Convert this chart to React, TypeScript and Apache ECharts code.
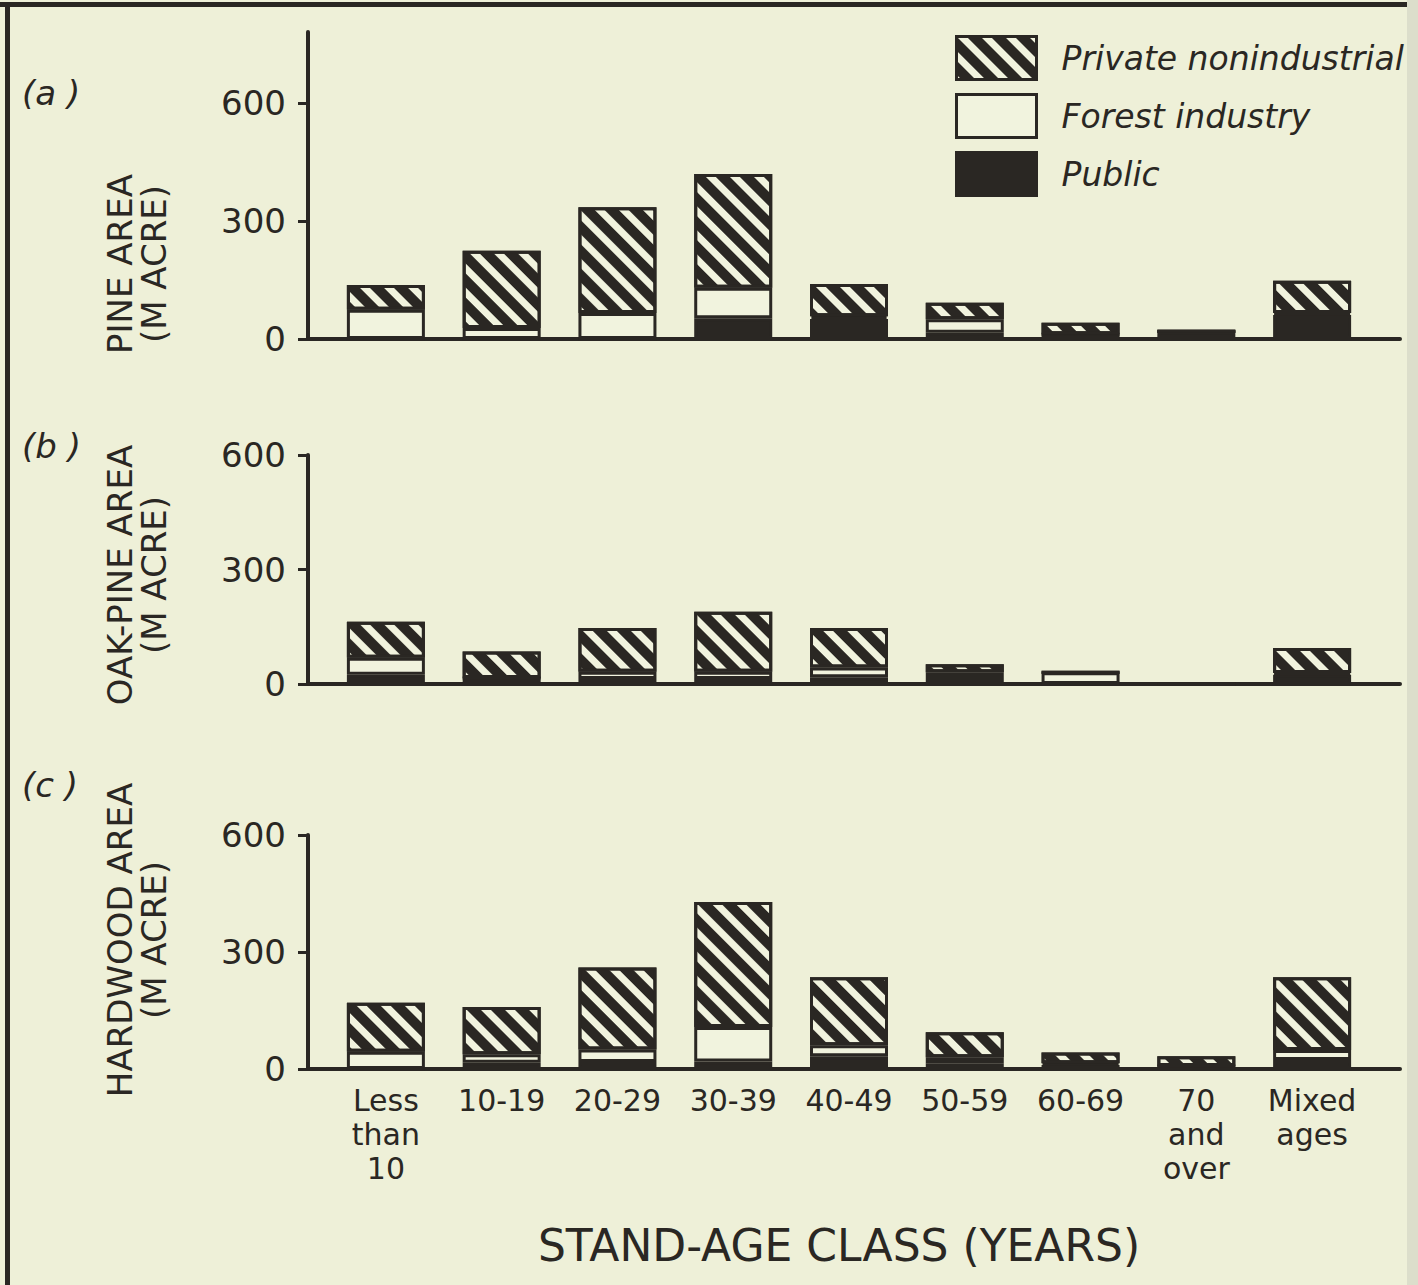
import React, { useEffect, useRef } from "react";
import * as echarts from "echarts";

// ---------- data ----------
const categories = [
  "Less\nthan\n10",
  "10-19",
  "20-29",
  "30-39",
  "40-49",
  "50-59",
  "60-69",
  "70\nand\nover",
  "Mixed\nages",
];
const seriesNames = ["Private nonindustrial", "Forest industry", "Public"];
const yTicks = [0, 300, 600];

// (a) Pine area, M acres (segment values, stacked Public -> Forest -> Private)
const pinePublic = [0, 0, 0, 53, 51, 16, 12, 20, 61];
const pineForest = [74, 28, 66, 77, 7, 34, 0, 0, 5];
const pinePrivate = [63, 196, 269, 289, 82, 42, 29, 0, 82];

// (b) Oak-pine area
const oakPublic = [24, 16, 13, 13, 18, 16, 0, 0, 24];
const oakForest = [45, 0, 19, 19, 25, 15, 31, 0, 5];
const oakPrivate = [94, 69, 115, 157, 104, 21, 0, 0, 65];

// (c) Hardwood area
const hwPublic = [0, 16, 18, 19, 33, 15, 10, 8, 23];
const hwForest = [44, 22, 32, 89, 28, 15, 5, 0, 26];
const hwPrivate = [126, 121, 210, 320, 174, 64, 27, 25, 186];

const panelLabels = ["(a )", "(b )", "(c )"];
const panelTitles = ["PINE AREA\n(M ACRE)", "OAK-PINE AREA\n(M ACRE)", "HARDWOOD AREA\n(M ACRE)"];
const xTitle = "STAND-AGE CLASS (YEARS)";

// ---------- style / layout ----------
const INK = "#2a2723";
const BG = "#eef0d8";
const FILL = "#f1f3de";
const FONT = "DejaVu Sans";

const layout = [
  { max: 780, top: 32, bottom: 946, labelY: 93, titleY: 264 },
  { max: 600, top: 455, bottom: 601, labelY: 446, titleY: 575 },
  { max: 600, top: 835, bottom: 216, labelY: 785, titleY: 940 },
];
const panelData = [
  [pinePublic, pineForest, pinePrivate],
  [oakPublic, oakForest, oakPrivate],
  [hwPublic, hwForest, hwPrivate],
];

const hatch = {
  symbol: "rect",
  symbolSize: 1,
  dashArrayX: [1, 0],
  dashArrayY: [10, 7],
  rotation: Math.PI / 4,
  color: INK,
};

function buildOption() {
  const grid: any[] = [];
  const xAxis: any[] = [];
  const yAxis: any[] = [];
  const series: any[] = [];
  const graphic: any[] = [];

  layout.forEach((p, i) => {
    grid.push({ left: 328, right: 48, top: p.top, bottom: p.bottom });
    grid.push({ left: 308, right: 18, top: p.top, bottom: p.bottom });

    xAxis.push({
      type: "category",
      gridIndex: 2 * i,
      data: categories,
      show: i === 2,
      axisLine: { show: false },
      axisTick: { show: false },
      axisLabel: {
        show: i === 2,
        interval: 0,
        margin: 14,
        color: INK,
        fontFamily: FONT,
        fontSize: 30,
        lineHeight: 34,
        align: "center",
        verticalAlign: "top",
      },
    });
    xAxis.push({
      type: "value",
      gridIndex: 2 * i + 1,
      min: 0,
      max: 1,
      axisLine: { show: true, onZero: false, lineStyle: { color: INK, width: 4 } },
      axisTick: { show: false },
      axisLabel: { show: false },
      splitLine: { show: false },
    });

    yAxis.push({
      type: "value",
      gridIndex: 2 * i,
      min: 0,
      max: p.max,
      show: false,
      splitLine: { show: false },
    });
    yAxis.push({
      type: "value",
      gridIndex: 2 * i + 1,
      min: 0,
      max: p.max,
      interval: 300,
      axisLine: { show: true, onZero: false, lineStyle: { color: INK, width: 4 } },
      axisTick: {
        show: true,
        length: 10,
        customValues: yTicks,
        lineStyle: { color: INK, width: 3 },
      },
      axisLabel: {
        customValues: yTicks,
        margin: 22,
        color: INK,
        fontFamily: FONT,
        fontSize: 34,
      },
      splitLine: { show: false },
    });

    const [pub, forest, priv] = panelData[i];
    const base = {
      type: "bar",
      xAxisIndex: 2 * i,
      yAxisIndex: 2 * i,
      stack: "s" + i,
      barWidth: 78,
    };
    series.push({
      ...base,
      name: "Public",
      data: pub,
      itemStyle: { color: INK, borderColor: INK, borderWidth: 3 },
    });
    series.push({
      ...base,
      name: "Forest industry",
      data: forest,
      itemStyle: { color: FILL, borderColor: INK, borderWidth: 3 },
    });
    series.push({
      ...base,
      name: "Private nonindustrial",
      data: priv,
      itemStyle: { color: FILL, borderColor: INK, borderWidth: 3, decal: hatch },
    });

    graphic.push({
      type: "text",
      x: 22,
      y: p.labelY,
      style: {
        text: panelLabels[i],
        font: `italic 34px "${FONT}"`,
        fill: INK,
        verticalAlign: "middle",
        align: "left",
      },
    });
    graphic.push({
      type: "text",
      x: 137,
      y: p.titleY,
      rotation: Math.PI / 2,
      style: {
        text: panelTitles[i],
        font: `34px "${FONT}"`,
        lineHeight: 34,
        fill: INK,
        align: "center",
        verticalAlign: "middle",
      },
    });
  });

  // frame
  graphic.push({ type: "rect", shape: { x: 0, y: 2, width: 1418, height: 5 }, style: { fill: INK } });
  graphic.push({ type: "rect", shape: { x: 5, y: 2, width: 5, height: 1283 }, style: { fill: INK } });
  graphic.push({ type: "rect", shape: { x: 1407, y: 0, width: 11, height: 1285 }, style: { fill: "#dcdecb" } });
  graphic.push({
    type: "text",
    x: 839,
    y: 1245,
    style: {
      text: xTitle,
      font: `44px "${FONT}"`,
      fill: INK,
      align: "center",
      verticalAlign: "middle",
    },
  });

  return {
    animation: false,
    backgroundColor: BG,
    grid,
    xAxis,
    yAxis,
    series,
    graphic,
    legend: {
      data: seriesNames,
      orient: "vertical",
      left: 950,
      top: 30,
      itemWidth: 80,
      itemHeight: 43,
      itemGap: 12,
      icon: "rect",
      selectedMode: false,
      itemStyle: { borderColor: INK, borderWidth: 3 },
      textStyle: {
        color: INK,
        fontFamily: FONT,
        fontStyle: "italic",
        fontSize: 33,
        padding: [0, 0, 0, 20],
      },
    },
  };
}

export default function App() {
  const ref = useRef<HTMLDivElement>(null);
  useEffect(() => {
    document.body.style.margin = "0";
    document.body.style.overflow = "hidden";
    const chart = echarts.init(ref.current!, undefined, { renderer: "svg" });
    chart.setOption(buildOption() as any);
    return () => chart.dispose();
  }, []);
  return (
    <div
      ref={ref}
      style={{ position: "absolute", left: 0, top: 0, width: 1418, height: 1285 }}
    />
  );
}
